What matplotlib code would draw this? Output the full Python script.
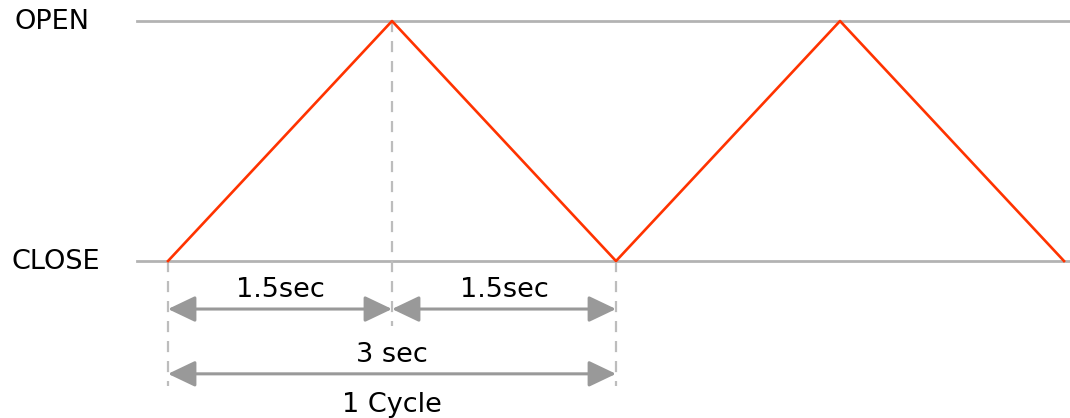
import matplotlib.pyplot as plt

# valve position over time (0 = CLOSE, 1 = OPEN)
times = [0, 1.5, 3, 4.5, 6]
valve = [0, 1, 0, 1, 0]
levels = ['CLOSE', 'OPEN']
half_period = 1.5
period = 3
half_label = '1.5sec'
period_label = '3 sec'
cycle_label = '1 Cycle'

grey = '#b3b3b3'
dash_grey = '#bdbdbd'
arrow_grey = '#999999'
red = '#ff3300'
fs = 19.5

fig = plt.figure(figsize=(10.7, 4.18), dpi=100)
ax = fig.add_axes([0, 0, 1, 1])
ax.set_xlim(-1.125, 6.04)
ax.set_ylim(-0.654, 1.0875)
ax.axis('off')

# level lines and labels
for v, name, lx in zip([0, 1], levels, [-0.75, -0.777]):
    ax.plot([-0.21, 6.04], [v, v], color=grey, lw=2, zorder=1)
    ax.text(lx, v - 0.035, name, ha='center', va='baseline', fontsize=fs)

# the triangle wave
ax.plot(times, valve, color=red, lw=1.9, zorder=3)

# dashed guides
dash = (0, (5, 4))
ax.plot([0, 0], [0, -0.52], color=dash_grey, lw=1.6, ls=dash, zorder=1)
ax.plot([period, period], [0, -0.52], color=dash_grey, lw=1.6, ls=dash, zorder=1)
ax.plot([half_period, half_period], [1, -0.27], color=dash_grey, lw=1.6, ls=dash, zorder=1)

# dimension arrows
def dim(x0, x1, y):
    ax.annotate('', xy=(x1, y), xytext=(x0, y),
                arrowprops=dict(arrowstyle='<|-|>,head_length=1.05,head_width=0.5',
                                mutation_scale=16, color=arrow_grey, lw=2.2,
                                shrinkA=0, shrinkB=0))

y1 = -0.2
y2 = -0.47
dim(0, half_period, y1)
dim(half_period, period, y1)
dim(0, period, y2)

ax.text(half_period / 2, y1 + 0.05, half_label, ha='center', va='baseline', fontsize=fs)
ax.text(half_period * 1.5, y1 + 0.05, half_label, ha='center', va='baseline', fontsize=fs)
ax.text(period / 2, y2 + 0.05, period_label, ha='center', va='baseline', fontsize=fs)
ax.text(period / 2, y2 - 0.16, cycle_label, ha='center', va='baseline', fontsize=fs)

fig.savefig('out.png', dpi=100)
